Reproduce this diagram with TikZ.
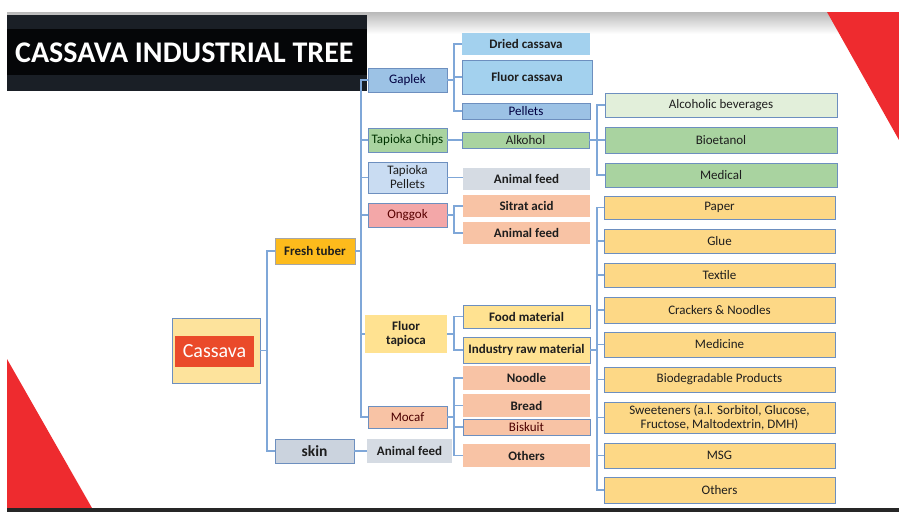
\documentclass[tikz,border=0pt]{standalone}
\usepackage{fontspec}
\setmainfont{Carlito}
\usetikzlibrary{calc}

\definecolor{linkc}{HTML}{7FA7D8}
\definecolor{bordc}{HTML}{6D8FBF}
\definecolor{slidered}{HTML}{EE2B2F}
\definecolor{titledark}{HTML}{1A1F26}
\definecolor{titleblack}{HTML}{050608}
\definecolor{bluemid}{HTML}{9CC2E5}
\definecolor{bluesky}{HTML}{A3D1EE}
\definecolor{bluelight}{HTML}{C9DCF2}
\definecolor{greenmid}{HTML}{A9D3A0}
\definecolor{greenlight}{HTML}{E2EFDA}
\definecolor{pinkc}{HTML}{F3A7A8}
\definecolor{salmon}{HTML}{F8C3A5}
\definecolor{grayc}{HTML}{D5DBE3}
\definecolor{skinc}{HTML}{CBD3DE}
\definecolor{yellowlt}{HTML}{FFE291}
\definecolor{yellowrt}{HTML}{FDD886}
\definecolor{orangec}{HTML}{FDBB1C}
\definecolor{cassbg}{HTML}{FDE39C}
\definecolor{cassred}{HTML}{EA4A2A}
\definecolor{txtc}{HTML}{1E1E1E}

\tikzset{
  box/.style={draw=bordc, line width=0.8pt, inner sep=0pt, align=center,
    font=\fontsize{13}{14}\selectfont, text=txtc},
  plain/.style={box, draw=none},
  boldtext/.style={font=\fontsize{13}{14}\selectfont\bfseries},
  conn/.style={draw=linkc, line width=1.4pt},
}

\begin{document}
\begin{tikzpicture}[x=1pt, y=-1pt]
\useasboundingbox (0,0) rectangle (899,512);
\fill[white] (0,0) rectangle (899,512);

% slide frame: top shadow, corner triangles, bottom bar
\shade[top color=gray!55, bottom color=white] (7,12) rectangle (899,34);
\fill[slidered] (827,12) -- (899,12) -- (899,140) -- cycle;
\fill[slidered] (7,359) -- (7,508) -- (92,508) -- cycle;
\fill[black!85] (7,508) rectangle (899,512);

% title banner
\fill[titledark] (7,15) rectangle (367,91);
\fill[titleblack] (7,29) rectangle (367,75);
\node[anchor=west, text=white, inner sep=0pt, font=\fontsize{30}{31}\selectfont\bfseries]
  (title) at (15,53) {CASSAVA INDUSTRIAL TREE};

% root
\node[box, fill=cassbg, minimum width=88, minimum height=65] (cassava) at (216,350.5) {};
\node[plain, fill=cassred, minimum width=79, minimum height=31, text=white,
  font=\fontsize{20}{21}\selectfont] (cassred) at (214.5,351.5) {Cassava};

% first level
\node[box, fill=orangec, draw=gray!70, minimum width=80, minimum height=26, boldtext] (fresh) at (315,251) {Fresh tuber};
\node[box, fill=skinc, minimum width=79, minimum height=24, font=\fontsize{15.5}{16}\selectfont\bfseries] (skin) at (314.5,451) {skin};

% second level
\node[box, fill=bluemid, minimum width=79, minimum height=24, text=black!75!blue] (gaplek) at (407.5,80) {Gaplek};
\node[box, fill=greenmid, minimum width=79, minimum height=24, text=black!80!green] (chips) at (407.5,140) {Tapioka Chips};
\node[box, fill=bluelight, minimum width=79, minimum height=31] (tpellets) at (407.5,177.5) {Tapioka\\Pellets};
\node[box, fill=pinkc, minimum width=79, minimum height=24, text=black!65!red] (onggok) at (407.5,215) {Onggok};
\node[plain, fill=yellowlt, minimum width=82, minimum height=38, boldtext] (fluort) at (406,334) {Fluor\\tapioca};
\node[box, fill=salmon, minimum width=79, minimum height=22, text=black!70!red] (mocaf) at (407.5,417) {Mocaf};
\node[plain, fill=grayc, minimum width=85, minimum height=24, boldtext] (skinfeed) at (409.5,451) {Animal feed};

% third level
\node[plain, fill=bluesky, minimum width=128, minimum height=22, boldtext] (dried) at (526,44) {Dried cassava};
\node[box, fill=bluesky, minimum width=130, minimum height=34, boldtext] (fluorc) at (527,77) {Fluor cassava};
\node[box, fill=bluemid, minimum width=128, minimum height=16, text=black!75!blue] (pellets) at (526,111) {Pellets};
\node[box, fill=greenmid, minimum width=127, minimum height=16] (alkohol) at (525.5,140) {Alkohol};
\node[plain, fill=grayc, minimum width=127, minimum height=22, boldtext] (pfeed) at (526.5,179) {Animal feed};
\node[plain, fill=salmon, minimum width=127, minimum height=22, boldtext] (sitrat) at (526.5,206) {Sitrat acid};
\node[plain, fill=salmon, minimum width=127, minimum height=22, boldtext] (ofeed) at (526.5,233) {Animal feed};
\node[box, fill=yellowlt, minimum width=127, minimum height=23, boldtext] (food) at (526.5,316.5) {Food material};
\node[box, fill=yellowlt, minimum width=127, minimum height=26, boldtext] (industry) at (526.5,350) {Industry raw material};
\node[plain, fill=salmon, minimum width=127, minimum height=24, boldtext] (noodle) at (526.5,378) {Noodle};
\node[plain, fill=salmon, minimum width=127, minimum height=23, boldtext] (bread) at (526.5,405.5) {Bread};
\node[box, fill=salmon, minimum width=127, minimum height=16, text=black!70!red] (biskuit) at (526.5,427) {Biskuit};
\node[plain, fill=salmon, minimum width=127, minimum height=23, boldtext] (others) at (526.5,455.5) {Others};

% fourth level: alcohol products
\node[box, fill=greenlight, minimum width=232, minimum height=24] (alcbev) at (721,105) {Alcoholic beverages};
\node[box, fill=greenmid, minimum width=232, minimum height=26] (bioet) at (721,140) {Bioetanol};
\node[box, fill=greenmid, minimum width=232, minimum height=24] (medical) at (721,175) {Medical};

% fourth level: industry products
\node[box, fill=yellowrt, minimum width=231, minimum height=23] (paper) at (719.5,207.5) {Paper};
\node[box, fill=yellowrt, minimum width=231, minimum height=24] (glue) at (719.5,241) {Glue};
\node[box, fill=yellowrt, minimum width=231, minimum height=24] (textile) at (719.5,275) {Textile};
\node[box, fill=yellowrt, minimum width=231, minimum height=26] (crackers) at (719.5,310) {Crackers \& Noodles};
\node[box, fill=yellowrt, minimum width=231, minimum height=25] (medicine) at (719.5,344.5) {Medicine};
\node[box, fill=yellowrt, minimum width=231, minimum height=25] (biodeg) at (719.5,379.5) {Biodegradable Products};
\node[box, fill=yellowrt, minimum width=231, minimum height=31] (sweet) at (719.5,417.5) {Sweeteners (a.l. Sorbitol, Glucose,\\Fructose, Maltodextrin, DMH)};
\node[box, fill=yellowrt, minimum width=231, minimum height=25] (msg) at (719.5,455.5) {MSG};
\node[box, fill=yellowrt, minimum width=231, minimum height=26] (others2) at (719.5,490) {Others};

% bus positions of the forks
\coordinate (busA) at (267,0);
\coordinate (busB) at (361,0);
\coordinate (busC) at (454,0);
\coordinate (busD) at (597,0);

% connectors
\begin{scope}[conn]
  \foreach \c in {fresh, skin}
    \draw (cassava.east) -- (cassava.east -| busA) |- (\c.west);
  \foreach \c in {gaplek, chips, tpellets, onggok, fluort, mocaf}
    \draw (fresh.east) -- (fresh.east -| busB) |- (\c.west);
  \foreach \c in {dried, fluorc, pellets}
    \draw (gaplek.east) -- (gaplek.east -| busC) |- (\c.west);
  \draw (chips.east) -- (alkohol.west);
  \draw (tpellets.east) -- (tpellets.east -| pfeed.west);
  \foreach \c in {sitrat, ofeed}
    \draw (onggok.east) -- (onggok.east -| busC) |- (\c.west);
  \foreach \c in {food, industry}
    \draw (fluort.east) -- (fluort.east -| busC) |- (\c.west);
  \foreach \c in {noodle, bread, biskuit, others}
    \draw (mocaf.east) -- (mocaf.east -| busC) |- (\c.west);
  \draw (skin.east) -- (skinfeed.west);
  \foreach \c in {alcbev, bioet, medical}
    \draw (alkohol.east) -- (alkohol.east -| busD) |- (\c.west);
  \foreach \c in {paper, glue, textile, crackers, medicine, biodeg, sweet, msg, others2}
    \draw (industry.east) -- (industry.east -| busD) |- (\c.west);
\end{scope}
\end{tikzpicture}
\end{document}
